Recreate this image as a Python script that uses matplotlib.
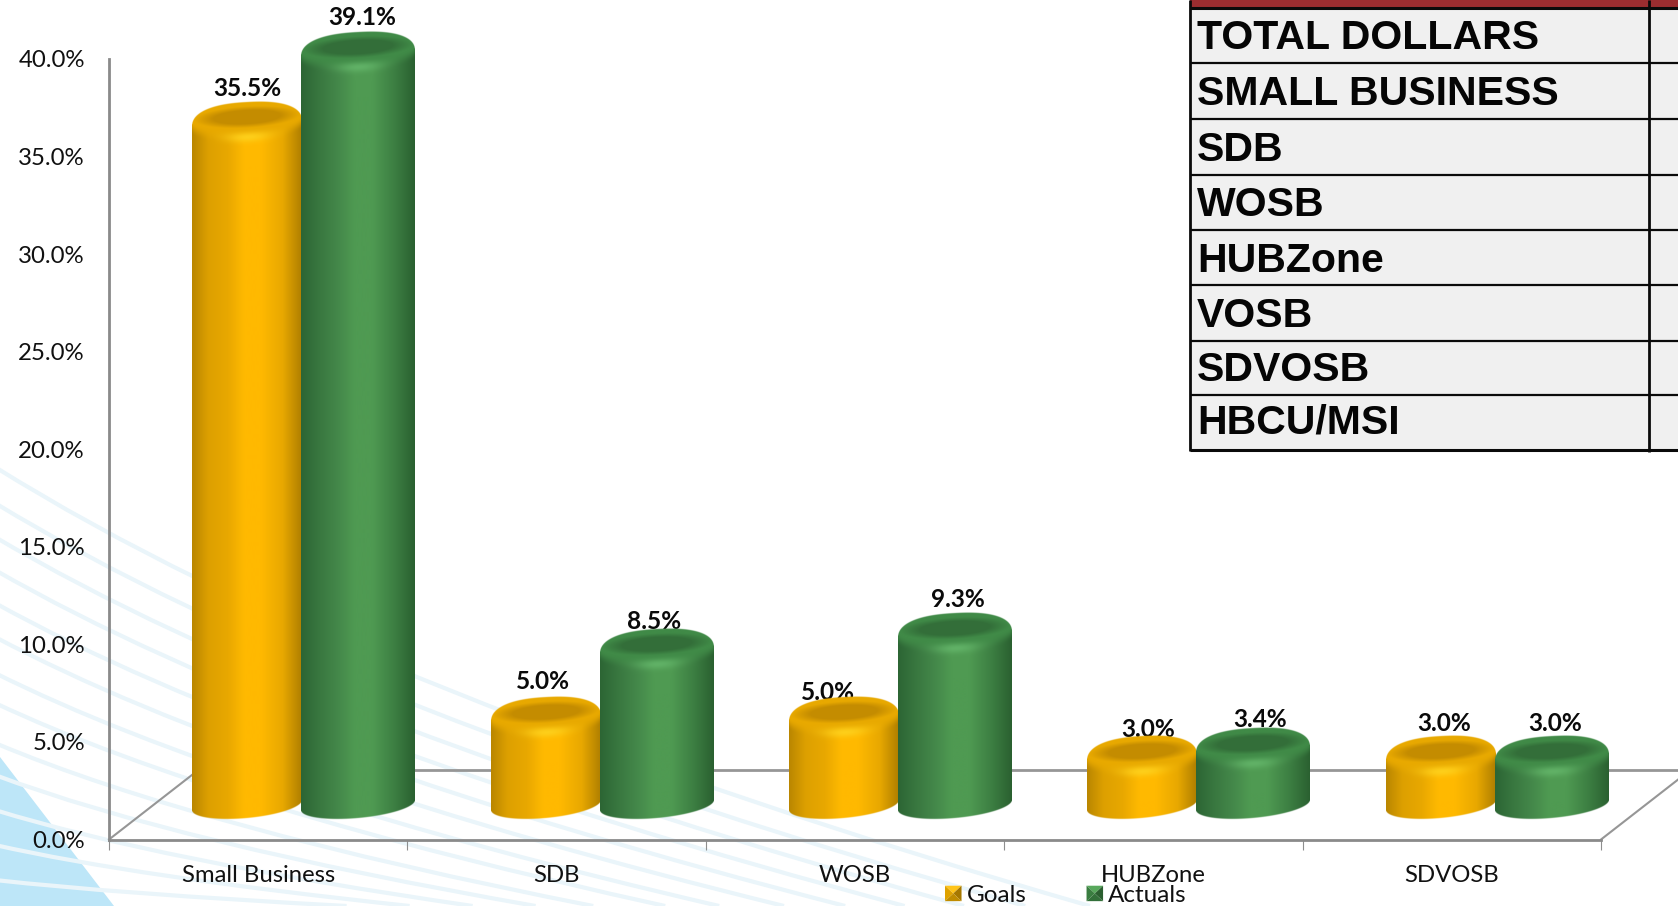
import numpy as np
import matplotlib
matplotlib.use("Agg")
import matplotlib.pyplot as plt
from matplotlib.patches import Polygon, Rectangle, PathPatch
from matplotlib.path import Path
from matplotlib.legend_handler import HandlerBase

# ---------- data ----------
categories = ["Small Business", "SDB", "WOSB", "HUBZone", "SDVOSB"]
goals = [35.5, 5.0, 5.0, 3.0, 3.0]
actuals = [39.1, 8.5, 9.3, 3.4, 3.0]
y_ticks = [0, 5, 10, 15, 20, 25, 30, 35, 40]
table_rows = ["TOTAL DOLLARS", "SMALL BUSINESS", "SDB", "WOSB", "HUBZone",
              "VOSB", "SDVOSB", "HBCU/MSI"]

# ---------- layout (pixels of the 1678x906 canvas) ----------
W, H = 1678, 906
AX_L, AX_R, AX_T, AX_B = 109, 1601, 59, 839.5
PX_X = (AX_R - AX_L) / 5
PX_Y = (AX_B - AX_T) / 40
goal_nudge = [(0, -38.4), (-3, -41.4), (-16, -30.4), (6, -32.4), (3, -38.4)]
actual_nudge = [(4, -39.4), (-2, -32.4), (3, -39.4), (7, -34.4), (3, -38.4)]
table_lines = [7.5, 62.5, 118.5, 174.5, 230, 285, 341, 395, 449.5]
table_baselines = [49, 105, 161, 216, 272, 327, 381, 434]

plt.rcParams["font.family"] = ["Lato", "DejaVu Sans"]
fig = plt.figure(figsize=(W / 100, H / 100), dpi=100, facecolor="white")

# ---------- background and side table, in canvas pixels ----------
bg = fig.add_axes([0, 0, 1, 1], zorder=-1)
bg.set_xlim(0, W)
bg.set_ylim(H, 0)
bg.axis("off")

bg.add_patch(Polygon([(0, 757), (114, 906), (0, 906)], closed=True, fc="#BDE6F8", ec="none", zorder=1))
stripe_starts = [467, 503, 537, 570, 603, 637, 673, 703, 743, 775, 810, 845, 880]
for y0 in stripe_starts:
    x1 = 1090 - (y0 - 467) * 1.8
    cx, cy = x1 * 0.33, y0 + (906 - y0) * 0.52
    bg.add_patch(PathPatch(Path([(-5, y0), (cx, cy), (x1, 906)],
                                [Path.MOVETO, Path.CURVE3, Path.CURVE3]),
                           fc="none", ec="#EAF5FA", lw=3.0, zorder=2))

bg.add_patch(Rectangle((1190, 0), W - 1190, 449, fc="#F0F0F0", ec="none", zorder=3))
bg.add_patch(Rectangle((1190, 0), W - 1190, 7, fc="#9B2D30", ec="none", zorder=3))
for i, y in enumerate(table_lines):
    bg.plot([1190, W], [y, y], color="#0A0A0A", lw=2.2 if i in (0, 8) else 1.6,
            solid_capstyle="butt", zorder=4)
bg.plot([1190, 1190], [0, 451], color="#0A0A0A", lw=2.0, solid_capstyle="butt", zorder=4)
bg.plot([1648.5, 1648.5], [0, 452], color="#0A0A0A", lw=2.0, solid_capstyle="butt", zorder=4)
for label, y in zip(table_rows, table_baselines):
    bg.text(1197, y, label, family="Liberation Sans", weight="bold", fontsize=29.5,
            color="#050505", va="baseline", ha="left", zorder=5)

# ---------- chart axes ----------
ax = fig.add_axes([AX_L / W, 1 - AX_B / H, (AX_R - AX_L) / W, (AX_B - AX_T) / H])
ax.patch.set_alpha(0)
ax.set_xlim(-0.5, 4.5)
ax.set_ylim(0, 40)
for s in ("top", "right"):
    ax.spines[s].set_visible(False)
for s in ("left", "bottom"):
    ax.spines[s].set_color("#8A8A8A")
    ax.spines[s].set_linewidth(2.0)
ax.set_yticks(y_ticks)
ax.set_yticklabels([f"{v:.1f}%" for v in y_ticks], fontsize=17.3, color="#111111")
ax.tick_params(axis="y", length=0, pad=17.4)
ax.set_xticks(np.arange(-0.5, 5, 1))
ax.set_xticklabels([])
ax.tick_params(axis="x", which="major", length=7, width=0.8, color="#8E8E8E")
ax.set_xticks(np.arange(5), minor=True)
ax.set_xticklabels(categories, minor=True, fontsize=17.2, color="#111111")
ax.tick_params(axis="x", which="minor", length=0, pad=18.5)

# 3D floor outline
LIFT_X = 90 / PX_X
LIFT_Y = 70 / PX_Y
floor_c = "#969696"
ax.plot([-0.5, -0.5 + LIFT_X], [0, LIFT_Y], color=floor_c, lw=1.5, clip_on=False, zorder=1)
ax.plot([4.5, 4.5 + LIFT_X], [0, LIFT_Y], color=floor_c, lw=1.5, clip_on=False, zorder=1)
ax.plot([-0.5 + LIFT_X, 4.5 + LIFT_X], [LIFT_Y, LIFT_Y], color=floor_c, lw=2.0, clip_on=False, zorder=1)

ORANGE = dict(stops=["#B98600", "#DDA000", "#E8A800", "#FFB900", "#FFB900", "#E8A800", "#AE7E00"],
              inner="#C48C00", rim="#E8A900", glow="#FFD520", name="Goals")
GREEN = dict(stops=["#2C6534", "#38763F", "#44884A", "#4F9A52", "#4F9A52", "#3C7E42", "#2A6030"],
             inner="#336E39", rim="#408A47", glow="#66B86C", name="Actuals")
U_STOPS = [-1, -0.7, -0.35, -0.05, 0.25, 0.65, 1]
LIFT = 1.0    # depth shift of a bar's top, in axis units
BASE = 1.53   # front left foot of every bar, in axis units
RIGHT_RISE = 10 / PX_Y


def rgb(c):
    return np.array(matplotlib.colors.to_rgb(c))


def mix(a, b, t):
    return a * (1 - t[..., None]) + b * t[..., None]


def cylinder(xc, half, value, pal, z):
    """One shaded cylinder: a bar plus a shading image placed in data coordinates."""
    top = value + LIFT
    ax.bar(xc, top - BASE - RIGHT_RISE, bottom=BASE + RIGHT_RISE, width=2 * half,
           color=pal["stops"][3], zorder=z, lw=0)
    a_px = half * PX_X
    y0_px = (BASE * PX_Y) - 16
    y1_px = top * PX_Y + 30
    nx, ny = int(2 * a_px * 3), int((y1_px - y0_px) * 3)
    u = (np.arange(nx) + 0.5) / nx * 2 - 1
    Y = y1_px - (np.arange(ny) + 0.5) / ny * (y1_px - y0_px)
    U, YY = np.meshgrid(u, Y)
    base = np.stack([np.interp(U, U_STOPS, [rgb(c)[k] for c in pal["stops"]]) for k in range(3)], -1)
    yc = top * PX_Y + 3 + 3 * U
    g = (1 - np.abs(U) ** 2.4) ** (1 / 2.4)
    ytop = yc + 22 * g
    ybot = BASE * PX_Y + 5 + 5 * U - 13 * np.sqrt(1 - U ** 2)
    lip = yc - 12 * np.sqrt(1 - U ** 2)
    t = np.clip((YY - lip + 6) / 13, 0, 1)
    col = mix(base, np.broadcast_to(rgb(pal["rim"]), base.shape), t * t * (3 - 2 * t))
    r = np.sqrt((U / 0.8) ** 2 + ((YY - yc - 7) / 9) ** 2)
    w = np.clip((1.2 - r) / 0.45, 0, 1)
    col = mix(col, np.broadcast_to(rgb(pal["inner"]), base.shape), w)
    glow = np.exp(-((U - 0.02) / 0.4) ** 2 - ((YY - lip + 1) / 5) ** 2)
    col = mix(col, np.broadcast_to(rgb(pal["glow"]), base.shape), glow * 0.8)
    alpha = np.clip(np.minimum(YY - ybot, ytop - YY) * 1.0 + 0.5, 0, 1)
    img = np.dstack([col, alpha])
    ax.imshow(img, extent=(xc - half, xc + half, y0_px / PX_Y, y1_px / PX_Y),
              aspect="auto", interpolation="antialiased", zorder=z + 0.1, clip_on=False)


GOAL_DX, GOAL_HALF = -0.037, 0.184
ACT_DX, ACT_HALF = 0.335, 0.191
for i in range(len(categories)):
    cylinder(i + GOAL_DX, GOAL_HALF, goals[i], ORANGE, 5 + i * 2)
    cylinder(i + ACT_DX, ACT_HALF, actuals[i], GREEN, 6 + i * 2)
    for val, dx, nudge in ((goals[i], GOAL_DX, goal_nudge[i]), (actuals[i], ACT_DX, actual_nudge[i])):
        ax.annotate(f"{val:.1f}%", xy=(i + dx, val + LIFT), xytext=(nudge[0] * 0.72, -nudge[1] * 0.72),
                    textcoords="offset points", ha="center", va="center", fontsize=17.6,
                    fontweight="bold", color="#0A0A0A", zorder=4, annotation_clip=False)
ax.set_xlim(-0.5, 4.5)
ax.set_ylim(0, 40)


# ---------- legend ----------
class Swatch(HandlerBase):
    def __init__(self, faces):
        super().__init__()
        self.faces = faces

    def create_artists(self, legend, orig, xd, yd, w, h, fontsize, trans):
        x0, y0 = -xd, -yd
        c = (x0 + w / 2, y0 + h / 2)
        ll, lr, ur, ul = (x0, y0), (x0 + w, y0), (x0 + w, y0 + h), (x0, y0 + h)
        tris = [(ul, ur, c), (ll, ul, c), (lr, ur, c), (ll, lr, c)]
        return [Polygon(p, closed=True, fc=f, ec="none", transform=trans)
                for p, f in zip(tris, self.faces)]


h_goal = Rectangle((0, 0), 1, 1, fc="#FFB900", label="Goals")
h_act = Rectangle((0, 0), 1, 1, fc="#4F9A52", label="Actuals")
leg = ax.legend(handles=[h_goal, h_act], ncol=2, frameon=False, fontsize=17.5,
                loc="center left", bbox_to_anchor=(945 / W, 1 - 895.5 / H), bbox_transform=fig.transFigure,
                borderpad=0, borderaxespad=0, handlelength=0.68, handleheight=0.6,
                handletextpad=0.22, columnspacing=2.46,
                handler_map={h_goal: Swatch(["#FFC41A", "#DFA200", "#A67800", "#C08C00"]),
                             h_act: Swatch(["#58A85C", "#3A7D40", "#2B5F30", "#33703A"])})
for t in leg.get_texts():
    t.set_color("#111111")

fig.savefig("out.png", dpi=100, facecolor="white")
